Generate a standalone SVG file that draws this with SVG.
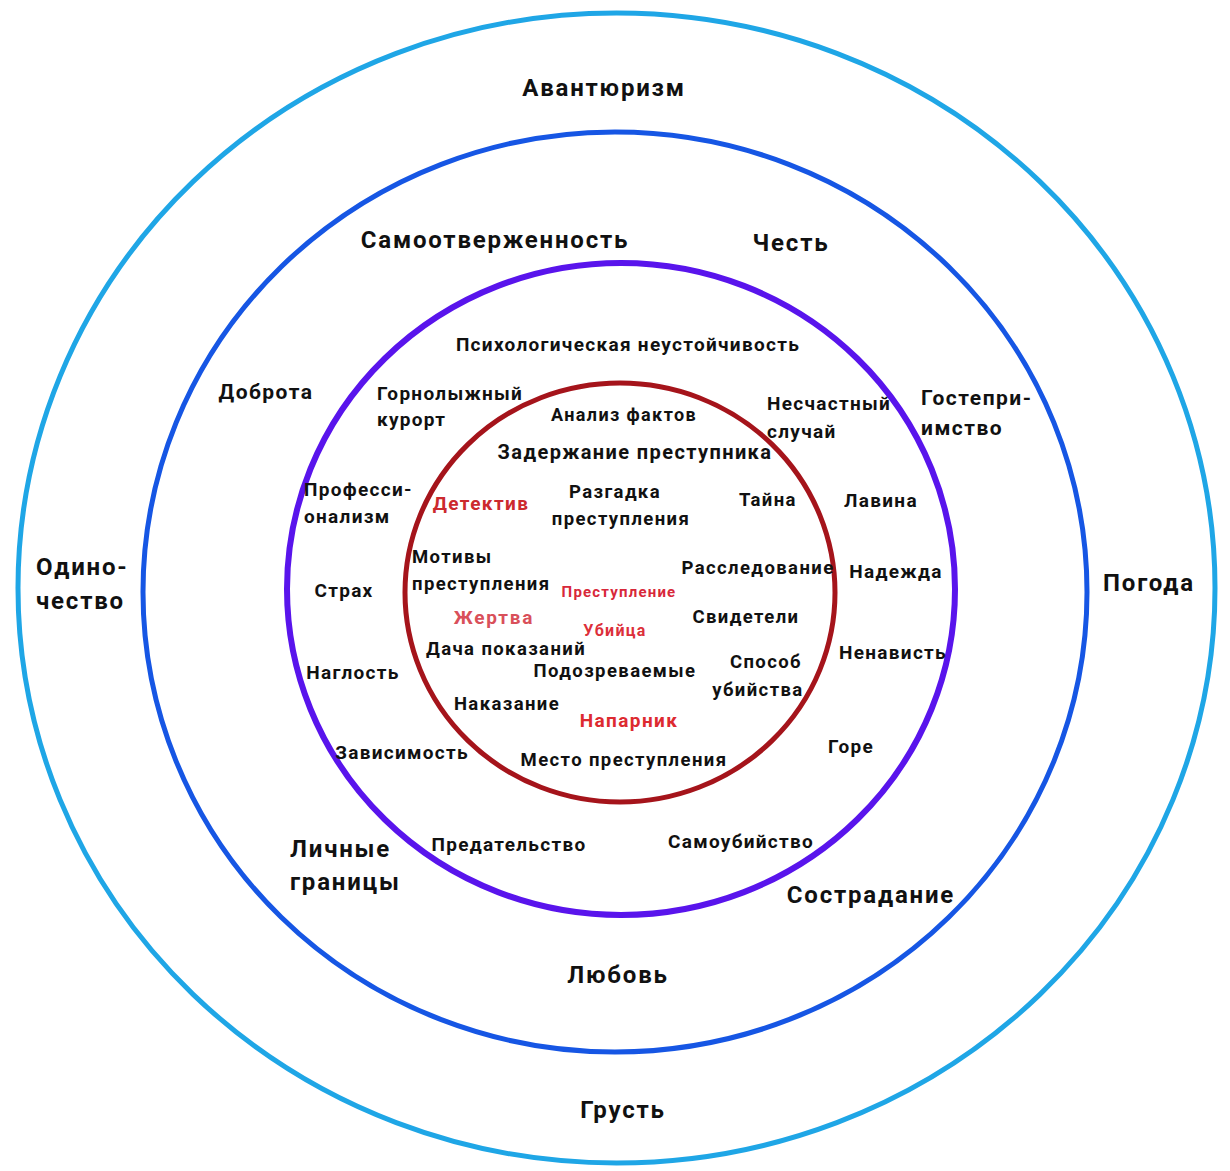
<svg xmlns="http://www.w3.org/2000/svg" width="1230" height="1171" viewBox="0 0 1230 1171">
<style>
text{font-family:Roboto,"Noto Sans","Liberation Sans",sans-serif;font-weight:700;fill:#111;}
.c{text-anchor:middle;}
.l1{font-size:24px;letter-spacing:1.8px;}
.l1s{font-size:21px;letter-spacing:1.5px;}
.l2{font-size:19px;letter-spacing:1.3px;}
.l3{font-size:18.5px;letter-spacing:1.4px;}
.red{fill:#D2262E;}
.ring{fill:none;}
</style>
<rect width="1230" height="1171" fill="#fff"/>
<g id="rings">
<ellipse id="ring-outer" class="ring" cx="616.5" cy="588" rx="598.5" ry="575" stroke="#1FA6E6" stroke-width="5"/>
<ellipse id="ring-second" class="ring" cx="615" cy="592" rx="472" ry="460" stroke="#1656E4" stroke-width="5"/>
<ellipse id="ring-third" class="ring" cx="621" cy="589" rx="334" ry="326" stroke="#5914EC" stroke-width="6"/>
<ellipse id="ring-core" class="ring" cx="620" cy="592.5" rx="215" ry="209.5" stroke="#A5141B" stroke-width="5"/>
</g>
<g id="outer-labels">
<text id="t-avant" class="l1 c" x="604" y="96">Авантюризм</text>
<text id="t-odin" class="l1" x="36" y="575">Одино-<tspan x="36" y="609">чество</tspan></text>
<text id="t-pogoda" class="l1 c" x="1149" y="591">Погода</text>
<text id="t-grust" class="l1 c" x="623" y="1118">Грусть</text>
</g>
<g id="second-labels">
<text id="t-samootv" class="l1 c" x="495" y="248">Самоотверженность</text>
<text id="t-chest" class="l1 c" x="791" y="251">Честь</text>
<text id="t-dobrota" class="l1s c" x="266" y="399">Доброта</text>
<text id="t-gostepr" class="l1s" x="921" y="405">Гостепри-<tspan x="921" y="435">имство</tspan></text>
<text id="t-lichnye" class="l1" x="290" y="857">Личные<tspan x="290" y="890">границы</tspan></text>
<text id="t-sostr" class="l1 c" x="871" y="903">Сострадание</text>
<text id="t-lubov" class="l1 c" x="618" y="983">Любовь</text>
</g>
<g id="third-labels">
<text id="t-psych" class="l2 c" x="628" y="351">Психологическая неустойчивость</text>
<text id="t-gorn" class="l2" x="377" y="400">Горнолыжный<tspan x="377" y="426">курорт</tspan></text>
<text id="t-nesch" class="l2" x="767" y="410">Несчастный<tspan x="767" y="438">случай</tspan></text>
<text id="t-prof" class="l2" x="304" y="496">Професси-<tspan x="304" y="523">онализм</tspan></text>
<text id="t-lavina" class="l2 c" x="881" y="507">Лавина</text>
<text id="t-strah" class="l2 c" x="344" y="597">Страх</text>
<text id="t-nadezhda" class="l2 c" x="896" y="578">Надежда</text>
<text id="t-naglost" class="l2 c" x="353" y="679">Наглость</text>
<text id="t-nenavist" class="l2 c" x="893" y="659">Ненависть</text>
<text id="t-zavis" class="l2 c" x="402" y="759">Зависимость</text>
<text id="t-gore" class="l2 c" x="851" y="753">Горе</text>
<text id="t-predat" class="l2 c" x="509" y="851">Предательство</text>
<text id="t-samoub" class="l2 c" x="741" y="848">Самоубийство</text>
</g>
<g id="core-labels">
<text id="t-analiz" class="l3 c" x="624" y="421" style="font-size:18px">Анализ фактов</text>
<text id="t-zaderzh" class="l3 c" x="635" y="459" style="font-size:20px">Задержание преступника</text>
<text id="t-detektiv" class="l3 c" x="481" y="510" style="font-size:19px;fill:#CC2A2E">Детектив</text>
<text id="t-razgadka" class="l3 c" x="615" y="498">Разгадка<tspan x="621" y="525">преступления</tspan></text>
<text id="t-tayna" class="l3 c" x="768" y="506">Тайна</text>
<text id="t-motivy" class="l3" x="412" y="563">Мотивы<tspan x="412" y="590">преступления</tspan></text>
<text id="t-rassled" class="l3 c" x="758" y="574">Расследование</text>
<text id="t-prestupl" class="c" x="619" y="597" style="font-size:15px;letter-spacing:1.2px;fill:#D8283A">Преступление</text>
<text id="t-zhertva" class="c" x="494" y="624" style="font-size:19px;letter-spacing:1.8px;fill:#D9505A">Жертва</text>
<text id="t-ubiyca" class="c" x="615" y="636" style="font-size:16px;letter-spacing:1.3px;fill:#DC2F3A">Убийца</text>
<text id="t-svid" class="l3 c" x="746" y="623">Свидетели</text>
<text id="t-dacha" class="l3 c" x="506" y="655">Дача показаний</text>
<text id="t-sposob" class="l3 c" x="766" y="668">Способ<tspan x="758" y="696">убийства</tspan></text>
<text id="t-podozr" class="l3 c" x="615" y="677">Подозреваемые</text>
<text id="t-nakaz" class="l3 c" x="507" y="710">Наказание</text>
<text id="t-naparnik" class="c" x="629" y="727" style="font-size:19px;letter-spacing:1.4px;fill:#DD2A30">Напарник</text>
<text id="t-mesto" class="l3 c" x="624" y="766">Место преступления</text>
</g>
</svg>
